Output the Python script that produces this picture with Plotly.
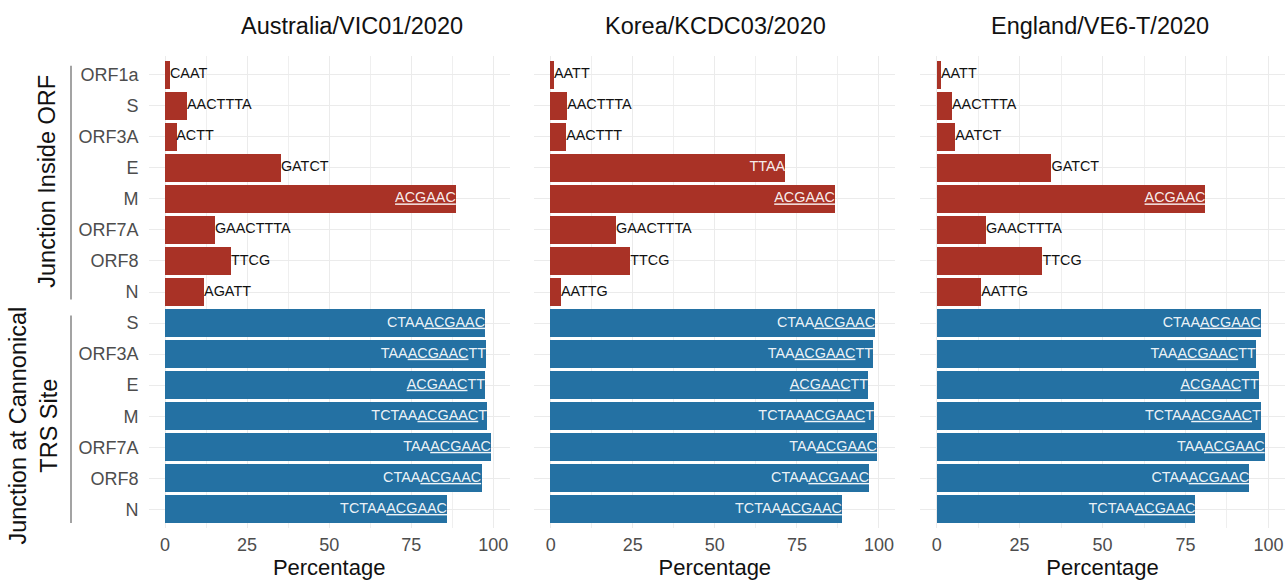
import plotly.graph_objects as go

# Gene order (top to bottom) for the two junction groups
orf_genes = ["ORF1a", "S", "ORF3A", "E", "M", "ORF7A", "ORF8", "N"]
trs_genes = ["S", "ORF3A", "E", "M", "ORF7A", "ORF8", "N"]

strains = ["Australia/VIC01/2020", "Korea/KCDC03/2020", "England/VE6-T/2020"]

# Percentage of reads per junction, junction inside ORF
orf_pct_aus = [1.5, 6.7, 3.4, 35.3, 88.6, 15.2, 20.1, 11.9]
orf_pct_kor = [1.0, 5.0, 4.7, 71.4, 86.6, 19.9, 24.2, 3.1]
orf_pct_eng = [1.3, 4.6, 5.6, 34.6, 81.0, 14.9, 31.9, 13.4]

# Percentage of reads per junction, junction at canonical TRS site
trs_pct_aus = [97.5, 97.8, 97.5, 98.1, 99.3, 96.3, 85.9]
trs_pct_kor = [98.8, 98.2, 96.7, 98.5, 99.4, 97.0, 88.7]
trs_pct_eng = [97.7, 96.2, 97.1, 97.7, 98.9, 94.3, 78.0]

# Junction sequences
orf_seq_aus = ["CAAT", "AACTTTA", "ACTT", "GATCT", "ACGAAC", "GAACTTTA", "TTCG", "AGATT"]
orf_seq_kor = ["AATT", "AACTTTA", "AACTTT", "TTAA", "ACGAAC", "GAACTTTA", "TTCG", "AATTG"]
orf_seq_eng = ["AATT", "AACTTTA", "AATCT", "GATCT", "ACGAAC", "GAACTTTA", "TTCG", "AATTG"]
trs_seq = ["CTAAACGAAC", "TAAACGAACTT", "ACGAACTT", "TCTAAACGAACT",
           "TAAACGAAC", "CTAAACGAAC", "TCTAAACGAAC"]

orf_pct = [orf_pct_aus, orf_pct_kor, orf_pct_eng]
trs_pct = [trs_pct_aus, trs_pct_kor, trs_pct_eng]
orf_seq = [orf_seq_aus, orf_seq_kor, orf_seq_eng]

x_ticks = [0, 25, 50, 75, 100]

RED = "#A93226"
BLUE = "#2471A3"
FONT = "Liberation Sans, Arial, sans-serif"
MOTIF = "ACGAAC"
W, H = 1285, 581

# panel extents in pixels (left, right)
panels_px = [(148.6, 509.7), (534.3, 895.4), (920.1, 1285.0)]
title_x_px = [352, 715, 1100]


def fmt(seq):
    if MOTIF in seq:
        return seq.replace(MOTIF, '<span style="text-decoration:underline">' + MOTIF + '</span>', 1)
    return seq


n_orf = len(orf_genes)
y_orf = list(range(n_orf))
y_trs = list(range(n_orf, n_orf + len(trs_genes)))
tick_vals = y_orf + y_trs
tick_text = orf_genes + trs_genes

fig = go.Figure()

for k in range(3):
    xa = "x" if k == 0 else f"x{k+1}"
    ya = "y" if k == 0 else f"y{k+1}"
    for pct, ys, seqs, color in [(orf_pct[k], y_orf, orf_seq[k], RED),
                                  (trs_pct[k], y_trs, trs_seq, BLUE)]:
        fig.add_trace(go.Bar(
            x=pct, y=ys, orientation="h", width=0.9,
            marker=dict(color=color, line=dict(width=0)),
            xaxis=xa, yaxis=ya, showlegend=False, hoverinfo="skip",
        ))
        inside = [v > 50 for v in pct]
        fig.add_trace(go.Scatter(
            x=pct, y=ys, mode="text",
            text=[fmt(s) for s in seqs],
            textposition=["middle left" if i else "middle right" for i in inside],
            textfont=dict(family=FONT, size=14.4,
                          color=["rgba(255,255,255,0.93)" if i else "#111111" for i in inside]),
            xaxis=xa, yaxis=ya, showlegend=False, hoverinfo="skip", cliponaxis=False,
        ))

layout = dict(
    width=W, height=H,
    margin=dict(l=0, r=0, t=56.4, b=53),
    plot_bgcolor="white", paper_bgcolor="white",
    bargap=0, font=dict(family=FONT),
)

for k in range(3):
    xkey = "xaxis" if k == 0 else f"xaxis{k+1}"
    ykey = "yaxis" if k == 0 else f"yaxis{k+1}"
    ya = "y" if k == 0 else f"y{k+1}"
    xa = "x" if k == 0 else f"x{k+1}"
    l, r = panels_px[k]
    layout[xkey] = dict(
        domain=[l / W, r / W], anchor=ya, range=[-5, 105],
        tickvals=x_ticks, ticktext=[str(v) for v in x_ticks],
        showgrid=True, gridcolor="#EBEBEB", gridwidth=1.4,
        minor=dict(dtick=12.5, tick0=0, showgrid=True, gridcolor="#EFEFEF", gridwidth=0.9),
        zeroline=False, showline=False, ticks="",
        tickfont=dict(family=FONT, size=18, color="#4D4D4D"),
        ticklabelstandoff=4,
        title=dict(text="Percentage", font=dict(family=FONT, size=22, color="#111111"), standoff=2),
    )
    layout[ykey] = dict(
        domain=[0, 1], anchor=xa, range=[14.6, -0.6],
        tickvals=tick_vals, ticktext=tick_text, showticklabels=(k == 0),
        showgrid=True, gridcolor="#EBEBEB", gridwidth=1.4,
        zeroline=False, showline=False, ticks="",
        tickfont=dict(family=FONT, size=18, color="#4D4D4D"),
        ticklabelstandoff=9,
    )

fig.update_layout(**layout)

# strain titles
for k, name in enumerate(strains):
    fig.add_annotation(
        text=name, x=title_x_px[k] / W, y=1, xref="paper", yref="paper",
        yshift=30, showarrow=False, xanchor="center", yanchor="middle",
        font=dict(family=FONT, size=23.5, color="#111111"),
    )

# group brackets and labels on the left
bracket_x = 71 / W
for y0, y1 in [(-0.29, 7.24), (7.76, 14.44)]:
    fig.add_shape(type="line", xref="paper", yref="y", x0=bracket_x, x1=bracket_x,
                  y0=y0, y1=y1, line=dict(color="#8C8C8C", width=1.6))

fig.add_annotation(text="Junction Inside ORF", x=47 / W, y=3.45, xref="paper", yref="y",
                   showarrow=False, textangle=-90, xanchor="center", yanchor="middle",
                   font=dict(family=FONT, size=23.5, color="#111111"))
fig.add_annotation(text="Junction at Cannonical<br>TRS Site", x=34 / W, y=11.3, xref="paper", yref="y",
                   showarrow=False, textangle=-90, xanchor="center", yanchor="middle",
                   font=dict(family=FONT, size=23.5, color="#111111"))

fig.write_html("out.html")
